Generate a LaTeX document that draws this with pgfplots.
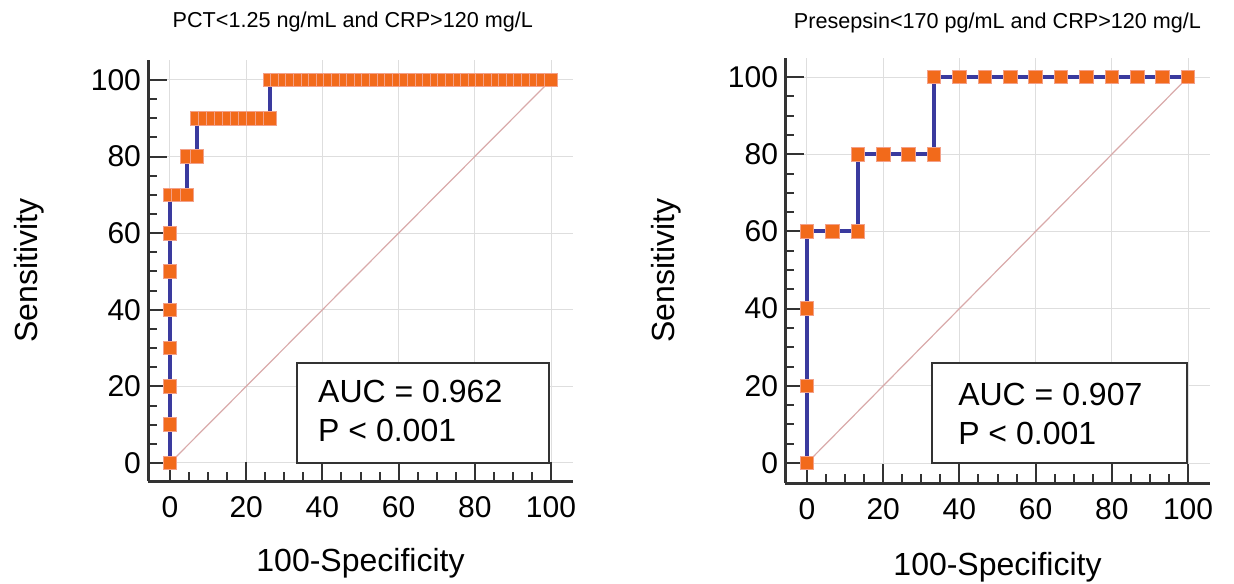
\documentclass[border=0pt]{standalone}
\usepackage{fontspec}
\setmainfont{Liberation Sans}
\usepackage{pgfplots}
\pgfplotsset{compat=1.18}

\definecolor{rocline}{HTML}{3A3A9E}
\definecolor{rocmark}{HTML}{F26A1B}
\definecolor{rocedge}{HTML}{F3A088}
\definecolor{diagline}{HTML}{D9AAAA}
\definecolor{spine}{HTML}{333333}

\tikzset{
  aucbox/.style={draw=spine, line width=1.2pt, fill=white},
  auctext/.style={anchor=base west, inner sep=0pt, font=\fontsize{16}{19}\selectfont},
  paneltitle/.style={anchor=base, inner sep=0pt, font=\fontsize{10.8}{13}\selectfont},
}

\pgfplotsset{
  rocaxis/.style={
    scale only axis,
    width=212.5pt,
    axis lines=left,
    axis line style={-, spine, line width=1.5pt},
    tick align=inside,
    major tick length=9.5pt,
    minor tick length=4.5pt,
    every tick/.style={spine, line width=1pt},
    xmin=-5.77, xmax=105.77,
    xtick={0,20,...,100}, ytick={0,20,...,100},
    minor tick num=3,
    grid=major,
    grid style={black!13, line width=0.5pt},
    tick label style={font=\fontsize{15}{18}\selectfont, /pgf/number format/assume math mode=true},
    xticklabel style={yshift=-4pt},
    xlabel={100-Specificity},
    ylabel={Sensitivity},
    label style={font=\fontsize{16}{19}\selectfont},
    ylabel style={at={(rel axis cs:-0.261,0.5)}, anchor=base},
    clip=false,
  },
  roc/.style={color=rocline, line width=2pt, mark=square*, mark size=3.4pt,
    mark options={fill=rocmark, draw=rocedge, line width=0.4pt}},
}

\begin{document}
\begin{tikzpicture}
\useasboundingbox (0,0) rectangle (617pt,291.5pt);

% left panel
\begin{axis}[rocaxis,
  at={(74pt,51pt)}, anchor=south west,
  height=210.5pt,
  ymin=-4.7, ymax=105.2,
  xlabel style={at={(rel axis cs:0.5,-0.216)}, anchor=base},
]
\node[paneltitle] at (rel axis cs:0.482,1.076) {PCT<1.25 ng/mL and CRP>120 mg/L};
\addplot[diagline, line width=0.6pt] coordinates {(0,0) (100,100)};
\draw[aucbox] (axis cs:33.3,0) rectangle (axis cs:99.5,26.1);
\node[auctext] at (axis cs:38.8,15.7) {AUC = 0.962};
\node[auctext] at (axis cs:38.8,5.5) {P < 0.001};
\addplot[roc] coordinates {
  (0,0) (0,10) (0,20) (0,30) (0,40) (0,50) (0,60) (0,70)
  (2.2,70) (4.4,70) (4.4,80) (7.1,80)
  (7.1,90) (9.22,90) (11.34,90) (13.47,90) (15.59,90) (17.71,90) (19.83,90) (21.96,90) (24.08,90) (26.2,90)
  (26.2,100) (28.19,100) (30.19,100) (32.18,100) (34.18,100) (36.17,100) (38.17,100) (40.16,100)
  (42.16,100) (44.15,100) (46.15,100) (48.14,100) (50.14,100) (52.13,100) (54.12,100) (56.12,100)
  (58.11,100) (60.11,100) (62.10,100) (64.10,100) (66.09,100) (68.09,100) (70.08,100) (72.08,100)
  (74.07,100) (76.06,100) (78.06,100) (80.05,100) (82.05,100) (84.04,100) (86.04,100) (88.03,100)
  (90.03,100) (92.02,100) (94.02,100) (96.01,100) (98.01,100) (100,100)
};
\end{axis}

% right panel
\begin{axis}[rocaxis,
  at={(392.5pt,50pt)}, anchor=south west,
  height=212.6pt,
  ymin=-5.18, ymax=105,
  xlabel style={at={(rel axis cs:0.5,-0.2165)}, anchor=base},
]
\node[paneltitle] at (rel axis cs:0.5,1.070) {Presepsin<170 pg/mL and CRP>120 mg/L};
\addplot[diagline, line width=0.6pt] coordinates {(0,0) (100,100)};
\draw[aucbox] (axis cs:32.8,0) rectangle (axis cs:99.7,25.9);
\node[auctext] at (axis cs:39.6,15.0) {AUC = 0.907};
\node[auctext] at (axis cs:39.6,4.9) {P < 0.001};
\addplot[roc] coordinates {
  (0,0) (0,20) (0,40) (0,60) (6.67,60) (13.33,60)
  (13.33,80) (20,80) (26.67,80) (33.33,80)
  (33.33,100) (40,100) (46.67,100) (53.33,100) (60,100) (66.67,100)
  (73.33,100) (80,100) (86.67,100) (93.33,100) (100,100)
};
\end{axis}
\end{tikzpicture}
\end{document}
